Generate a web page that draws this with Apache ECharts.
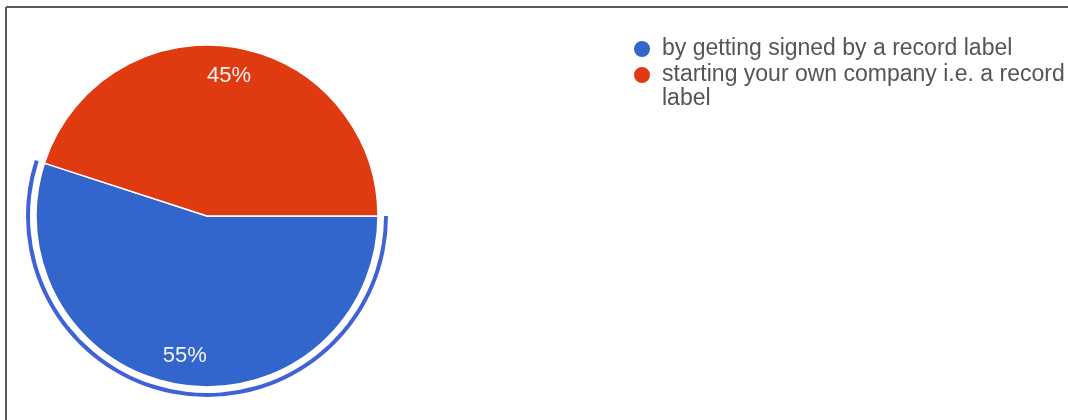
<!DOCTYPE html>
<html>
<head>
<meta charset="utf-8">
<script src="https://cdn.jsdelivr.net/npm/echarts@6/dist/echarts.min.js"></script>
<style>
html,body{margin:0;padding:0;background:#fff;}
#chart{width:1068px;height:420px;}
</style>
</head>
<body>
<div id="chart"></div>
<script>
const categories = ['by getting signed by a record label', 'starting your own company i.e. a record label'];
const values = [55, 45];
const labels = ['55%', '45%'];
const colors = ['#3366cc', '#e03a10'];

// legend icons: a circle inside a 30x42 box (centered for a one-line entry, raised to the first line for a two-line entry)
const iconCentered = 'path://M0,0M30,42M24,21A9,9,0,1,1,6,21A9,9,0,1,1,24,21Z';
const iconFirstLine = 'path://M0,0M30,42M24,9A9,9,0,1,1,6,9A9,9,0,1,1,24,9Z';

const legendFont = '23px "Liberation Sans", Arial, sans-serif';
const legendWidth = 405;
const measureCtx = document.createElement('canvas').getContext('2d');
measureCtx.font = legendFont;
function wrapWords(text) {
  const words = text.split(' ');
  const lines = [];
  let cur = '';
  words.forEach(w => {
    const test = cur ? cur + ' ' + w : w;
    if (cur && measureCtx.measureText(test).width > legendWidth) {
      lines.push(cur);
      cur = w;
    } else {
      cur = test;
    }
  });
  if (cur) lines.push(cur);
  return lines.join('\n');
}

const chart = echarts.init(document.getElementById('chart'), null, {renderer: 'canvas'});
const center = [207, 216];
const R = 171;

chart.setOption({
  animation: false,
  backgroundColor: '#ffffff',
  legend: {
    orient: 'vertical',
    left: 626,
    top: 27,
    padding: 0,
    itemWidth: 30,
    itemHeight: 42,
    itemGap: -8,
    symbolKeepAspect: true,
    data: [
      {name: categories[0], icon: iconCentered},
      {name: categories[1], icon: iconFirstLine}
    ],
    formatter: name => wrapWords(name),
    textStyle: {
      fontFamily: '"Liberation Sans", Arial, sans-serif',
      fontSize: 23,
      color: '#555555',
      lineHeight: 24
    }
  },
  graphic: [
    {type: 'line', shape: {x1: 6, y1: 7, x2: 1068, y2: 7}, style: {stroke: '#5a5a5a', lineWidth: 2}, silent: true},
    {type: 'line', shape: {x1: 6, y1: 7, x2: 6, y2: 420}, style: {stroke: '#5a5a5a', lineWidth: 2}, silent: true}
  ],
  series: [
    {
      type: 'pie',
      center: center,
      radius: [0, R],
      startAngle: 0,
      clockwise: true,
      silent: true,
      label: {show: false},
      labelLine: {show: false},
      itemStyle: {borderColor: '#ffffff', borderWidth: 1.5},
      data: categories.map((c, i) => ({name: c, value: values[i], itemStyle: {color: colors[i]}}))
    },
    {
      type: 'pie',
      center: center,
      radius: [R + 6, R + 10],
      startAngle: 0,
      clockwise: true,
      silent: true,
      legendHoverLink: false,
      label: {show: false},
      labelLine: {show: false},
      data: categories.map((c, i) => ({name: c, value: values[i], itemStyle: {color: i === 0 ? '#3f62d6' : 'rgba(0,0,0,0)'}}))
    },
    {
      type: 'pie',
      center: center,
      radius: [106, R],
      startAngle: 0,
      clockwise: true,
      silent: true,
      legendHoverLink: false,
      itemStyle: {color: 'rgba(0,0,0,0)'},
      label: {
        show: true,
        position: 'inside',
        color: '#f4f4f4',
        fontSize: 22,
        fontFamily: '"Liberation Sans", Arial, sans-serif',
        formatter: p => labels[p.dataIndex]
      },
      labelLine: {show: false},
      data: categories.map((c, i) => ({name: c, value: values[i]}))
    }
  ]
});
</script>
</body>
</html>
